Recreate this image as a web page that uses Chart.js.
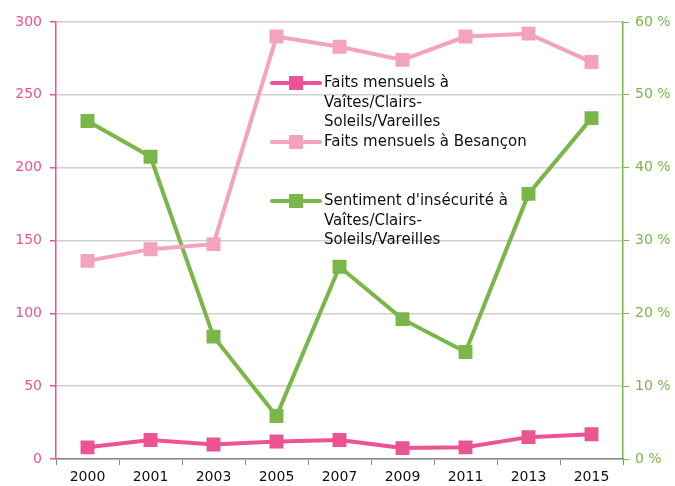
<!DOCTYPE html>
<html>
<head>
<meta charset="utf-8">
<script src="https://cdn.jsdelivr.net/npm/chart.js@4"></script>
<style>
  html,body{margin:0;padding:0;background:#fff;}
  #wrap{position:relative;width:675px;height:486px;}
  #legend{position:absolute;left:270px;top:73px;font:15px "DejaVu Sans",sans-serif;color:#111;line-height:19.5px;}
  .it{position:relative;padding-left:54px;}
  .it .ln{position:absolute;left:0;top:8px;width:52px;height:4px;border-radius:2px;}
  .it .sq{position:absolute;left:19px;top:3px;width:14px;height:14px;}
</style>
</head>
<body>
<div id="wrap">
  <canvas id="ch" width="675" height="486"></canvas>
  <div id="legend"></div>
</div>
<script>
// categories and series
const YEARS = ['2000','2001','2003','2005','2007','2009','2011','2013','2015'];
const FAITS_VAITES   = [8, 13, 10, 12, 13, 7.5, 8, 15, 17];
const FAITS_BESANCON = [136, 144, 147.5, 290, 283, 274, 290, 292, 272.5];
const SENTIMENT_PCT  = [46.4, 41.5, 16.8, 5.9, 26.4, 19.2, 14.7, 36.4, 46.8];
const LEFT_TICKS  = [0, 50, 100, 150, 200, 250, 300];
const RIGHT_TICKS = [0, 10, 20, 30, 40, 50, 60];

const PINK = '#ec5392', LPINK = '#f4a3bd', GREEN = '#7ab648';
const FONT = '"DejaVu Sans", sans-serif';

const ds = (label, data, color, axis) => ({
  label, data, yAxisID: axis,
  borderColor: color, backgroundColor: color,
  borderWidth: 4, pointStyle: 'rect', pointRadius: 7, pointHoverRadius: 7,
  tension: 0, fill: false
});

new Chart(document.getElementById('ch'), {
  type: 'line',
  data: {
    labels: YEARS,
    datasets: [
      ds('Faits mensuels à Vaîtes/Clairs-Soleils/Vareilles', FAITS_VAITES, PINK, 'y'),
      ds('Faits mensuels à Besançon', FAITS_BESANCON, LPINK, 'y'),
      ds("Sentiment d'insécurité à Vaîtes/Clairs-Soleils/Vareilles", SENTIMENT_PCT, GREEN, 'y2')
    ]
  },
  options: {
    responsive: false, animation: false,
    layout: { padding: { top: 22, left: 0, right: 0, bottom: 0 } },
    plugins: { legend: { display: false }, tooltip: { enabled: false } },
    scales: {
      x: {
        offset: true,
        grid: { display: true, drawOnChartArea: false, drawTicks: true, tickLength: 6, color: '#888', offset: true },
        border: { color: '#888', width: 1.5 },
        ticks: { color: '#111', font: { family: FONT, size: 14 }, padding: 4, maxRotation: 0 },
        afterFit: s => { s.height = 27; }
      },
      y: {
        position: 'left', min: 0, max: 300,
        afterBuildTicks: s => { s.ticks = LEFT_TICKS.map(v => ({ value: v })); },
        grid: { color: '#d0d0d0', lineWidth: 1.5, tickLength: 6, tickColor: PINK },
        border: { color: PINK, width: 1.5 },
        ticks: { color: PINK, font: { family: FONT, size: 14 }, padding: 8 },
        afterFit: s => { s.width = 56; }
      },
      y2: {
        position: 'right', min: 0, max: 60,
        afterBuildTicks: s => { s.ticks = RIGHT_TICKS.map(v => ({ value: v })); },
        grid: { drawOnChartArea: false, tickLength: 6, color: GREEN },
        border: { color: GREEN, width: 1.5 },
        ticks: { color: GREEN, font: { family: FONT, size: 14 }, padding: 6, callback: v => v + ' %' },
        afterFit: s => { s.width = 52; }
      }
    }
  }
});

// legend inside the plot, as html text
const LEGEND = [
  ['Faits mensuels à<br>Vaîtes/Clairs-<br>Soleils/Vareilles', PINK, 0],
  ['Faits mensuels à Besançon', LPINK, 0],
  ["Sentiment d'insécurité à<br>Vaîtes/Clairs-<br>Soleils/Vareilles", GREEN, 40]
];
const lg = document.getElementById('legend');
LEGEND.forEach(([t, c, gap]) => {
  const d = document.createElement('div');
  d.className = 'it'; d.style.marginTop = gap + 'px';
  d.innerHTML = `<span class="ln" style="background:${c}"></span><span class="sq" style="background:${c}"></span>${t}`;
  lg.appendChild(d);
});
</script>
</body>
</html>
